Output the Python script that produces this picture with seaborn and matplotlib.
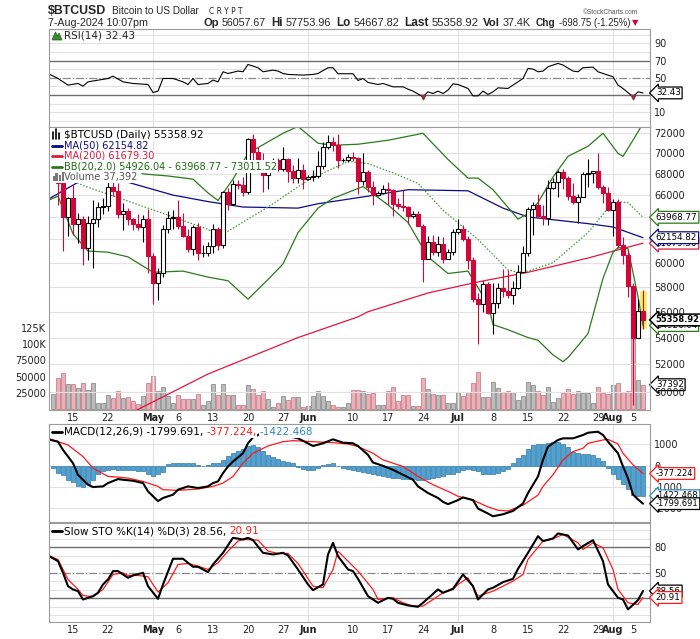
import numpy as np
import pandas as pd
import matplotlib
matplotlib.use("Agg")
import matplotlib.pyplot as plt
import matplotlib.font_manager as fm
from matplotlib.lines import Line2D
from matplotlib.patches import Rectangle, Polygon
from matplotlib.ticker import NullLocator, NullFormatter
import seaborn as sns

# ------------------------------------------------------------------ data
start_date = "2024-04-11"
end_date = "2024-08-07"
ref_date = "2024-04-12"          # day 0 for the indicator readings below

opens = [70600,
         70000, 67100, 64000, 65700, 63400, 63800, 61300, 63500, 63800, 64900,
         64950, 66800, 66400, 64300, 64500, 63800, 63400, 63100, 63800, 60600,
         58300, 59100, 62900, 63900, 64000, 63200, 62300, 61200, 63100, 60800,
         60850, 61450, 62900, 61550, 66300, 65200, 67000, 66900, 66300, 71400,
         70100, 69100, 67900, 68500, 69300, 68500, 69400, 68300, 67600, 68400,
         67500, 67750, 67800, 68800, 70600, 71100, 70800, 69300, 69350, 69650,
         69500, 67300, 68200, 66800, 66000, 66200, 66600, 66500, 65200, 65000,
         64900, 64100, 64250, 63200, 60300, 61800, 60900, 61600, 60300, 60900,
         62700, 62900, 62000, 60200, 57000, 56600, 58200, 55900, 56700, 57900,
         57700, 57300, 57900, 59200, 60800, 64700, 65100, 64100, 63900, 66700,
         67200, 68200, 67600, 65900, 65400, 65800, 68000, 68050, 68300, 66800,
         66200, 64600, 65400, 61500, 60700, 58100, 54000, 56057.67]
highs = [71200,
         71200, 67200, 65800, 66900, 64400, 64100, 64100, 65500, 65400, 65700,
         67200, 67200, 67100, 65300, 64800, 63900, 64300, 64200, 64700, 60800,
         59600, 63300, 64500, 64600, 65500, 64400, 62900, 63300, 63500, 61500,
         61800, 63400, 63100, 66400, 66700, 67400, 67400, 67700, 71500, 71900,
         70600, 70000, 69200, 69500, 69500, 70600, 69500, 68900, 69500, 69000,
         67900, 68400, 70200, 71100, 71800, 71600, 71900, 69500, 69900, 70100,
         69600, 70000, 68400, 67300, 66400, 66900, 67200, 66600, 65700, 66500,
         65000, 64500, 64500, 63400, 62300, 62400, 62300, 62200, 61200, 62900,
         63800, 63300, 62300, 60500, 57500, 58500, 58400, 58300, 58300, 59500,
         59400, 58500, 59800, 61400, 64900, 65400, 66100, 65100, 67400, 67600,
         68400, 68500, 67800, 67100, 66100, 68200, 69400, 68300, 70000, 66900,
         66800, 65600, 65600, 62200, 61100, 58300, 57000, 57753.96]
lows = [69500,
        65100, 61000, 62300, 62400, 61700, 59800, 60200, 59600, 63100, 64300,
        64500, 65900, 63900, 62800, 63300, 62800, 62800, 61800, 59100, 56600,
        56900, 58800, 62600, 62900, 62900, 62200, 60900, 60700, 60200, 60500,
        60600, 60800, 61100, 61300, 64600, 65100, 66600, 65900, 66100, 69200,
        68900, 66300, 66600, 68500, 68300, 68300, 67200, 67100, 67100, 66600,
        67400, 67300, 67600, 68500, 70400, 70200, 68600, 69100, 69100, 69200,
        66100, 66900, 66300, 65100, 65900, 66100, 65100, 64100, 64700, 64500,
        63400, 63900, 63200, 58400, 60300, 60700, 60600, 60000, 60300, 60700,
        62500, 61900, 59500, 56800, 53500, 56000, 55800, 54300, 56300, 57200,
        57100, 56600, 57800, 59200, 60600, 62400, 64000, 63300, 63300, 66600,
        65800, 66600, 65500, 65200, 63500, 65800, 66800, 67100, 66600, 65300,
        64500, 62300, 61300, 59900, 57200, 49100, 54000, 54667.82]
closes = [70000,
          67100, 64000, 65700, 63400, 63800, 61300, 63500, 63800, 64900, 64950,
          66800, 66400, 64300, 64500, 63800, 63400, 63100, 63800, 60600, 58300,
          59100, 62900, 63900, 64000, 63200, 62300, 61200, 63100, 60800, 60850,
          61450, 62900, 61550, 66300, 65200, 67000, 66900, 66300, 71400, 70100,
          69100, 67900, 68500, 69300, 68500, 69400, 68300, 67600, 68400, 67500,
          67750, 67800, 68800, 70600, 71100, 70800, 69300, 69350, 69650, 69500,
          67300, 68200, 66800, 66000, 66200, 66600, 66500, 65200, 65000, 64900,
          64100, 64250, 63200, 60300, 61800, 60900, 61600, 60300, 60900, 62700,
          62900, 62000, 60200, 57000, 56600, 58200, 55900, 56700, 57900, 57700,
          57300, 57900, 59200, 60800, 64700, 65100, 64100, 63900, 66700, 67200,
          68200, 67600, 65900, 65400, 65800, 68000, 68050, 68300, 66800, 66200,
          64600, 65400, 61500, 60700, 58100, 54000, 56060, 55358.92]
volume_k = [22.6,
            48, 56, 38, 38, 33, 40, 30, 40, 10, 10,
            21, 17, 27, 17, 18.5, 12, 7, 20, 40, 51,
            28, 34, 20, 10, 21.5, 15, 15, 15, 22.6, 6,
            12, 38, 21.5, 38, 21, 21, 6.2, 6.9, 36.4, 30.3,
            21.5, 27.7, 14.9, 3.6, 9.7, 20, 13.3, 18.5, 18.5, 3,
            4.6, 19.5, 27.7, 19.5, 12.3, 6.2, 3.6, 2.6, 9.7, 29,
            29, 28, 23.1, 25.1, 6.2, 6.2, 28.2, 34.3, 12.3, 21,
            21, 4.6, 5.1, 47.2, 30.3, 23.1, 22.0, 21.0, 8.7, 8.7,
            24.1, 20.0, 25.6, 39.5, 56.4, 17.9, 17.9, 42.0, 31.8, 26.7,
            28.2, 26.7, 13.8, 20.0, 42.0, 36.9, 28.2, 21.5, 34.3, 11.2,
            16.4, 25.1, 30.3, 23.1, 28.2, 25.1, 25.1, 9.7, 34.3, 24.1,
            23.1, 36.9, 39.5, 26.7, 28.2, 125, 44.6, 37.392]

ma50_days = [-2, 4, 10, 14, 23, 30, 37, 48, 52, 62, 70, 82, 89, 94, 98, 106, 111, 117]
ma50_vals = [65600, 67200, 67400, 67200, 66000, 65400, 64900, 64800, 65200, 65900,
             66500, 66400, 64800, 64000, 63800, 63400, 63100, 62154.82]
ma200_days = [14, 16, 30, 48, 60, 62, 74, 84, 94, 106, 112, 117]
ma200_vals = [48500, 48800, 51300, 54000, 55600, 56000, 57500, 58400, 59200, 60400,
              61100, 61679.30]
bbu_days = [-2, 8, 13, 17, 22, 27, 30, 32, 35, 38, 45, 48, 52, 55, 60, 66, 73, 78, 82,
            84, 87, 92, 94, 96, 99, 102, 106, 109, 112, 113, 115, 117]
bbu_vals = [72400, 71500, 69500, 68000, 67800, 67500, 66200, 65500, 67500, 70000,
            72000, 72700, 71000, 70800, 70900, 71300, 72000, 69400, 67600, 67600,
            66500, 63800, 64300, 65300, 67700, 69700, 70700, 72000, 70000, 69700,
            71300, 73011.52]
bbm_days = [-2, 5, 18, 30, 32, 42, 50, 58, 62, 67, 72, 77, 84, 90, 92, 94, 99, 106,
            110, 112, 114, 117]
bbm_vals = [68500, 66900, 64800, 62900, 62200, 64900, 67400, 69200, 69000, 68100,
            67100, 64600, 62000, 59400, 59200, 59300, 60000, 62600, 64800, 65400,
            65300, 63968.77]
bbl_days = [-2, 0, 3, 6, 10, 14, 19, 25, 30, 34, 38, 42, 45, 48, 52, 55, 61, 66, 70,
            74, 78, 82, 86, 87, 90, 94, 96, 99, 101, 102, 106, 109, 111, 112, 114,
            116, 117]
bbl_vals = [65500, 65900, 62500, 61000, 60900, 60500, 59200, 59300, 58800, 58500,
            57000, 58600, 59900, 62600, 64800, 65700, 66800, 65100, 63500, 60500,
            59100, 59300, 56600, 55000, 54600, 54000, 53800, 52700, 52200, 52500,
            54300, 58700, 60900, 61300, 61200, 57200, 54926.04]

rsi_days = [-2, 0, 2, 4, 5, 6, 10, 11, 13, 15, 18, 19, 20, 21, 23, 25, 26, 27, 28, 30,
            31, 32, 33, 34, 36, 37, 38, 40, 41, 43, 44, 45, 46, 49, 51, 52, 54, 55,
            56, 59, 60, 61, 62, 64, 65, 67, 69, 70, 71, 73, 74, 75, 76, 77, 78, 79,
            80, 82, 83, 84, 85, 86, 87, 88, 90, 91, 93, 94, 95, 96, 97, 98, 99, 100,
            101, 103, 104, 105, 107, 108, 110, 111, 112, 113, 115, 116, 117]
rsi_vals = [55.0, 49.2, 41.5, 43.4, 40.3, 45.3, 49.2, 51.9, 45.3, 43.4, 42.2, 32.9,
            34.5, 49.2, 49.2, 45.3, 42.2, 49.2, 42.2, 43.4, 47.3, 45.3, 57.0, 55.0,
            57.8, 57.0, 65.5, 61.7, 57.0, 58.9, 57.8, 55.0, 53.9, 53.1, 53.9, 55.0,
            61.7, 61.7, 54.7, 54.7, 46.9, 49.2, 44.6, 42.2, 43.4, 39.5, 39.5, 36.8,
            34.5, 27.9, 33.7, 31.7, 34.5, 31.7, 35.6, 43.0, 42.2, 37.6, 29.0, 29.0,
            34.5, 30.6, 33.7, 38.3, 37.6, 41.5, 49.2, 60.9, 60.1, 57.0, 57.8, 62.8,
            64.8, 66.7, 64.8, 57.8, 57.0, 61.7, 62.4, 57.0, 53.1, 51.2, 41.5, 37.6,
            27.9, 33.7, 32.43]
rsi_oversold_days = [73, 115]

macd_days = [-2, 0, 1, 3, 4, 6, 7, 9, 10, 12, 13, 15, 17, 18, 20, 21, 23, 24, 26, 28,
             30, 31, 32, 33, 34, 35, 37, 38, 39, 40, 41, 43, 45, 46, 48, 51, 53, 55,
             57, 59, 60, 62, 63, 65, 67, 69, 71, 72, 74, 76, 77, 78, 80, 81, 83, 84,
             86, 87, 89, 91, 93, 94, 96, 97, 98, 100, 101, 103, 105, 106, 108, 109,
             110, 112, 113, 114, 115, 116, 117]
macd_vals = [1235, 1125, 735, 110, -438, -906, -1016, -985, -828, -641, -672, -719,
             -828, -1220, -1680, -1532, -1375, -1141, -985, -1063, -985, -828, -750,
             -359, -47, 188, 578, 1047, 1329, 1438, 1600, 1700, 1550, 1391, 1282, 922,
             1047, 1235, 1078, 1047, 922, 500, 141, -16, -203, -438, -672, -985,
             -1297, -1532, -1714, -1824, -1633, -1505, -1633, -2030, -2267, -2395,
             -2300, -2143, -1790, -1300, -516, 266, 891, 1204, 1282, 1282, 1438, 1547,
             1594, 1438, 1125, 578, -47, -600, -1370, -1600, -1799.691]
signal_days = [-2, 2, 5, 7, 10, 12, 14, 17, 20, 21, 24, 28, 31, 33, 35, 37, 39, 42, 45,
               47, 51, 55, 58, 60, 63, 65, 69, 72, 75, 78, 80, 83, 86, 88, 90, 93, 96,
               97, 99, 101, 103, 105, 106, 109, 110, 112, 113, 115, 117]
signal_vals = [1282, 969, 422, -125, -516, -547, -594, -750, -985, -1141, -1172, -1110,
               -985, -828, -516, 109, 578, 922, 1125, 1172, 1125, 1078, 1016, 891, 578,
               266, -47, -516, -906, -1219, -1453, -1633, -1952, -2110, -2143, -1873,
               -1397, -985, -438, 266, 656, 813, 1047, 1204, 1235, 1016, 578, 31,
               -377.224]
hist_vals = [-125,
             -360, -450, -700, -800, -950, -1000, -850, -700, -420, -280,
             -200, -180, -200, -200, -220, -230, -240, -250, -400, -480,
             -400, -300, 80, 120, 140, 140, 120, 100, 20, 0,
             30, 100, 120, 270, 450, 580, 700, 800, 900, 950,
             850, 700, 500, 380, 300, 220, 180, 100, -50, -150,
             -200, -200, -100, 20, 80, 100, 0, -100, -150, -200,
             -250, -300, -330, -420, -460, -480, -550, -580, -600, -620,
             -640, -660, -680, -690, -660, -600, -550, -500, -420, -380,
             -300, -200, -180, -220, -250, -380, -420, -400, -350, -280,
             -150, 100, 350, 500, 800, 950, 1000, 1020, 1050, 1100,
             1130, 1000, 850, 650, 600, 560, 540, 500, 350, 200,
             -100, -400, -650, -850, -1100, -1400, -1420, -1422.468]

stok_days = [-2, 0, 1, 2, 3, 4, 5, 7, 8, 9, 10, 11, 12, 14, 15, 17, 18, 20, 21, 23,
             25, 26, 27, 28, 30, 31, 33, 35, 37, 38, 39, 41, 43, 45, 46, 48, 50, 51,
             53, 54, 55, 56, 58, 59, 60, 62, 64, 66, 67, 68, 70, 72, 73, 76, 77, 79,
             81, 83, 84, 86, 87, 89, 91, 92, 94, 96, 97, 99, 100, 102, 104, 105, 107,
             109, 110, 112, 113, 114, 116, 117]
stok_vals = [70.4, 63.7, 50.0, 34.3, 30.4, 28.4, 18.6, 22.5, 26.5, 36.3, 42.2, 52.0,
             52.0, 44.1, 46.9, 50.0, 34.3, 19.4, 36.3, 66.5, 66.5, 61.8, 57.1, 57.1,
             50.8, 59.8, 73.5, 91.2, 89.2, 91.2, 88.4, 73.5, 71.6, 73.5, 70.4, 53.9,
             36.3, 29.6, 36.3, 71.6, 85.3, 69.6, 53.9, 52.0, 42.9, 22.5, 14.7, 20.6,
             19.4, 14.7, 11.6, 10.0, 14.7, 30.4, 26.5, 31.2, 48.0, 34.3, 18.6, 30.4,
             32.4, 39.0, 42.9, 54.7, 73.5, 93.1, 87.3, 90.4, 96.3, 93.9, 77.5, 81.4,
             88.4, 63.7, 36.3, 20.6, 18.6, 6.9, 17.8, 28.56]
stod_days = [-2, 0, 2, 4, 5, 7, 9, 11, 13, 14, 16, 18, 20, 22, 24, 26, 28, 30, 32, 34,
             36, 37, 40, 42, 44, 46, 48, 51, 53, 55, 56, 58, 60, 63, 64, 67, 69, 71,
             73, 75, 77, 79, 80, 82, 84, 87, 89, 91, 93, 94, 97, 99, 101, 104, 105,
             107, 109, 111, 112, 114, 116, 117]
stod_vals = [70.4, 65.7, 42.2, 30.4, 23.3, 21.8, 30.4, 48.0, 50.0, 46.9, 46.9, 45.3,
             27.3, 38.2, 59.8, 61.0, 57.8, 53.9, 61.8, 75.5, 87.3, 89.2, 88.4, 75.5,
             72.7, 72.7, 61.0, 34.3, 32.4, 53.9, 75.5, 63.7, 52.0, 30.4, 18.6, 20.6,
             14.7, 10.8, 10.8, 18.6, 26.5, 30.4, 36.3, 44.1, 22.5, 28.4, 34.3, 40.2,
             48.0, 65.7, 87.3, 90.0, 95.1, 85.3, 77.5, 85.3, 79.4, 53.9, 30.4, 14.7,
             12.7, 20.91]

tick_dates = ["2024-04-15", "2024-04-22", "2024-05-01", "2024-05-06", "2024-05-13",
              "2024-05-20", "2024-05-27", "2024-06-01", "2024-06-10", "2024-06-17",
              "2024-06-24", "2024-07-01", "2024-07-08", "2024-07-15", "2024-07-22",
              "2024-07-29", "2024-08-01", "2024-08-05"]
tick_labels = ["15", "22", "May", "6", "13", "20", "27", "Jun", "10", "17", "24",
               "Jul", "8", "15", "22", "29", "Aug", "5"]
month_labels = ["May", "Jun", "Jul", "Aug"]

price_ticks = [50000, 52000, 54000, 56000, 58000, 60000, 62000, 64000, 66000, 68000,
               70000, 72000]
volume_ticks = [25000, 50000, 75000, 100000, 125000]
volume_tick_labels = ["25000", "50000", "75000", "100K", "125K"]

# ------------------------------------------------------------------ setup
W, H = 700, 639
sns.set_style("white")


def has_font(name):
    try:
        fm.findfont(fm.FontProperties(family=name), fallback_to_default=False)
        return True
    except Exception:
        return False


NARROW = "Liberation Sans Narrow" if has_font("Liberation Sans Narrow") else "Liberation Sans"
plt.rcParams["font.family"] = ["DejaVu Sans"]
plt.rcParams["font.size"] = 7
plt.rcParams["axes.unicode_minus"] = False

fig = plt.figure(figsize=(W / 100, H / 100), dpi=100)
fig.patch.set_facecolor("white")
rend = fig.canvas.get_renderer()

ref = pd.Timestamp(ref_date)
dates = pd.date_range(start_date, end_date, freq="D")
xs = np.asarray((dates - ref).days, dtype=float)
O = np.array(opens, float)
Hh = np.array(highs, float)
Lw = np.array(lows, float)
C = np.array(closes, float)
V = np.array(volume_k, float) * 1000
for name, arr in [("opens", O), ("highs", Hh), ("lows", Lw), ("closes", C),
                  ("volume", V), ("hist", np.array(hist_vals))]:
    if len(arr) != len(xs):
        raise SystemExit(f"{name} has {len(arr)} values, expected {len(xs)}")

tick_x = [(pd.Timestamp(d) - ref).days for d in tick_dates]
month_x = [tick_x[i] for i, l in enumerate(tick_labels) if l in month_labels]
XL = (-1.8, 118.4)

GRID = "#e2e2e2"
SPINE = "#9c9c9c"
LEVEL = "#6e6e6e"
RED = "#d0083a"
NAVY = "#0a0a8a"
MARED = "#e3173e"
GREEN = "#2b7a1c"
BLUE = "#2a8ac6"
HFAM = [NARROW, "DejaVu Sans"]


def axpos(top, bottom, left=49, right=650):
    return [left / W, 1 - bottom / H, (right - left) / W, (bottom - top) / H]


def ftext(x, y, s, **kw):
    return fig.text(x / W, 1 - y / H, s, **kw)


def fit(x, y, s, width, **kw):
    """text whose rendered width is scaled to the measured reference width"""
    t = ftext(x, y, s, **kw)
    w = t.get_window_extent(rend).width
    if w > 0:
        t.set_fontsize(t.get_fontsize() * width / w)
    return t


def runs(x, y, parts, va="baseline"):
    for s, kw, gap in parts:
        t = ftext(x, y, s, ha="left", va=va, **kw)
        x += t.get_window_extent(rend).width + gap
    return x


def base(ax):
    ax.set_xlim(*XL)
    ax.set_facecolor("none")
    for s in ax.spines.values():
        s.set_color(SPINE)
        s.set_linewidth(0.8)
    ax.tick_params(axis="both", length=0, labelsize=7, colors="#222222", pad=3)
    ax.yaxis.tick_right()
    ax.set_xticks(tick_x)
    ax.set_xticklabels([])
    ax.set_xlabel("")
    ax.set_ylabel("")
    for m in month_x:
        ax.axvline(m, color=GRID, lw=0.8, zorder=0)


def set_xlabels(ax):
    ax.set_xticklabels(tick_labels)
    for t in ax.get_xticklabels():
        if t.get_text() in month_labels:
            t.set_fontweight("bold")
    ax.tick_params(axis="x", labelsize=7, pad=2.2)


def tag(ax, value, text, ec, bold=False, fs=6.3):
    ax.annotate(text, xy=(1, value), xycoords=("axes fraction", "data"),
                xytext=(4.2, 0), textcoords="offset points", ha="left", va="center",
                fontsize=fs, fontweight="bold" if bold else "normal", color="black",
                bbox=dict(boxstyle="larrow,pad=0.16", fc="white", ec=ec,
                          lw=1.1 if bold else 0.9),
                annotation_clip=False, zorder=20)


def line(ax, days, vals, color, lw, **kw):
    sns.lineplot(x=np.asarray(days, float), y=np.asarray(vals, float), ax=ax,
                 color=color, linewidth=lw, errorbar=None, **kw)


# ------------------------------------------------------------------ header
fit(48, 14.5, "$BTCUSD", 58, fontsize=11, fontweight="bold", family=HFAM, va="baseline")
fit(112, 14.5, "Bitcoin to US Dollar", 88, fontsize=9, family=HFAM, va="baseline")
fit(209, 14.5, "C R Y P T", 34, fontsize=7, va="baseline")
fit(638, 13.5, "\u00a9StockCharts.com", 56, fontsize=9, color="#555555", family=HFAM,
    va="baseline", ha="right")
fit(48, 25.5, "7-Aug-2024 10:07pm", 100, fontsize=9, family=HFAM, va="baseline")

hdr_items = [("Op", "56057.67", 203, 266), ("Hi", "57753.96", 271, 331),
             ("Lo", "54667.82", 336, 399), ("Last", "55358.92", 404, 478),
             ("Vol", "37.4K", 483, 531), ("Chg", "-698.75 (-1.25%)", 536, 630)]
for key, val, x0, x1 in hdr_items:
    kb = ftext(x0, 25.5, key, fontsize=9.5, fontweight="bold", family=HFAM,
               va="baseline", ha="left")
    kv = ftext(x0, 25.5, val, fontsize=9, family=HFAM, va="baseline", ha="left")
    wk = kb.get_window_extent(rend).width
    wv = kv.get_window_extent(rend).width
    scale = min(1.0, (x1 - x0 - 3) / (wk + wv))
    kb.set_fontsize(9.5 * scale)
    kv.set_fontsize(9 * scale)
    wk = kb.get_window_extent(rend).width
    kv.set_position(((x0 + wk + 3) / W, 1 - 25.5 / H))
ftext(632, 25.5, "\u25bc", fontsize=6, color=RED, va="baseline", ha="left")

# ------------------------------------------------------------------ RSI panel
ax_rsi = fig.add_axes(axpos(29, 126.5))
base(ax_rsi)
ax_rsi.set_ylim(-6.6, 106.7)
for v in range(0, 101, 10):
    if v not in (30, 50, 70):
        ax_rsi.axhline(v, color=GRID, lw=0.8, zorder=0)
ax_rsi.axhline(70, color=LEVEL, lw=1.0, zorder=1)
ax_rsi.axhline(30, color=LEVEL, lw=1.0, zorder=1)
ax_rsi.axhline(50, color="#888888", lw=0.9, ls="-.", zorder=1)
line(ax_rsi, rsi_days, rsi_vals, "black", 0.8)
ax_rsi.scatter([d for d in rsi_oversold_days],
               [rsi_vals[rsi_days.index(d)] for d in rsi_oversold_days],
               marker="v", s=10, color="#8a3040", zorder=5)
ax_rsi.set_yticks([10, 30, 50, 70, 90])
ax_rsi.set_yticklabels(["10", "30", "50", "70", "90"])
ax_rsi.set_xlabel("")
ax_rsi.set_ylabel("")
tag(ax_rsi, rsi_vals[-1], f"{rsi_vals[-1]:.2f}", "black")

# ------------------------------------------------------------------ price panel
ax_vol = fig.add_axes(axpos(126.5, 410))
ax_vol.set_xlim(*XL)
ax_vol.set_ylim(-1538, 434615)
prev = np.r_[C[0], C[:-1]]
down = C < prev
ax_vol.bar(xs, V, width=0.9, color=np.where(down, "#e7b3bb", "#bcbcbc"),
           edgecolor=np.where(down, "#d27d8a", "#8f8f8f"), linewidth=0.6, zorder=2)
for s in ax_vol.spines.values():
    s.set_visible(False)
ax_vol.set_xticks([])
ax_vol.yaxis.tick_left()
ax_vol.set_yticks(volume_ticks)
ax_vol.set_yticklabels(volume_tick_labels)
ax_vol.tick_params(axis="y", length=0, labelsize=7, colors="#222222", pad=2)
tag(ax_vol, V[-1], f"{V[-1]:.0f}", "black")

ax_px = fig.add_axes(axpos(126.5, 410))
base(ax_px)
ax_px.set_yscale("log")
ax_px.set_ylim(48764, 72693)
ax_px.yaxis.set_minor_locator(NullLocator())
ax_px.yaxis.set_minor_formatter(NullFormatter())
ax_px.set_yticks(price_ticks)
ax_px.set_yticklabels([str(v) for v in price_ticks])
for v in price_ticks:
    ax_px.axhline(v, color=GRID, lw=0.8, zorder=0)
set_xlabels(ax_px)

# highlight of the latest bar
ax_px.bar(xs[-1], Hh[-1] - Lw[-1], bottom=Lw[-1], width=1.5, color="#f3ef5c",
          zorder=2)

line(ax_px, ma200_days, ma200_vals, MARED, 0.9)
line(ax_px, ma50_days, ma50_vals, NAVY, 0.9)
line(ax_px, bbu_days, bbu_vals, GREEN, 0.9)
line(ax_px, bbl_days, bbl_vals, GREEN, 0.9)
line(ax_px, bbm_days, bbm_vals, "#3f9a32", 0.9, linestyle=(0, (1.2, 1.4)))

up = C >= O
ax_px.vlines(xs, Lw, Hh, colors=np.where(up, "black", RED), linewidth=0.8, zorder=4)
body = np.maximum(np.abs(C - O), 70)
ax_px.bar(xs, body, bottom=np.minimum(O, C), width=0.8,
          color=np.where(up, "white", RED), edgecolor=np.where(up, "black", RED),
          linewidth=0.8, zorder=5)
ax_px.set_xlabel("")
ax_px.set_ylabel("")

tag(ax_px, bbm_vals[-1], f"{bbm_vals[-1]:.2f}", GREEN)
tag(ax_px, ma200_vals[-1], f"{ma200_vals[-1]:.2f}", MARED)
tag(ax_px, ma50_vals[-1], f"{ma50_vals[-1]:.2f}", NAVY)
tag(ax_px, bbl_vals[-1], f"{bbl_vals[-1]:.2f}", GREEN)
tag(ax_px, C[-1], f"{C[-1]:.2f}", "black", bold=True, fs=6.0)

# legend block (white backed)
fig.add_artist(Rectangle((49.6 / W, 1 - 183 / H), 14 / W, 55 / H,
                         transform=fig.transFigure, fc="white", ec="none", zorder=1))
leg_kw = dict(va="center", ha="left", bbox=dict(fc="white", ec="none", pad=0.8))
ftext(64, 134.5, "$BTCUSD (Daily) 55358.92", fontsize=7.5, color="black", **leg_kw)
ftext(64, 145.5, "MA(50) 62154.82", fontsize=7, color=NAVY, **leg_kw)
ftext(64, 156, "MA(200) 61679.30", fontsize=7, color=MARED, **leg_kw)
ftext(64, 166.5, "BB(20,2.0) 54926.04 - 63968.77 - 73011.52", fontsize=7,
      color="#1d6b12", **leg_kw)
ftext(64, 177, "Volume 37,392", fontsize=7, color="#555555", **leg_kw)
for yy, cc in [(145.5, NAVY), (156, MARED), (166.5, GREEN)]:
    fig.add_artist(Line2D([52 / W, 62 / W], [1 - yy / H] * 2, color=cc, lw=2.0,
                          transform=fig.transFigure, zorder=4))
for x0, hh in [(53, 6), (56, 9), (59, 5)]:
    fig.add_artist(Line2D([x0 / W] * 2, [1 - (138 - hh) / H, 1 - 139 / H], color="black",
                          lw=1.2, transform=fig.transFigure, zorder=4))
for x0, hh in [(52.5, 5), (55.5, 8), (58.5, 6), (61.5, 9)]:
    fig.add_artist(Rectangle((x0 / W, 1 - 181 / H), 2.2 / W, hh / H, fc="#777777",
                             ec="none", transform=fig.transFigure, zorder=4))
fig.add_artist(Polygon([(52 / W, 1 - 40 / H), (55.5 / W, 1 - 32 / H),
                        (57.5 / W, 1 - 36 / H), (59 / W, 1 - 33 / H),
                        (62 / W, 1 - 40 / H)], closed=True, fc="#3c8c2c",
                       ec="#1f5f15", lw=0.5, transform=fig.transFigure, zorder=4))
ftext(64, 36, "RSI(14) 32.43", fontsize=7.5, va="center", ha="left")

# ------------------------------------------------------------------ MACD panel
ax_macd = fig.add_axes(axpos(424, 522))
base(ax_macd)
ax_macd.set_ylim(-2665, 1958)
for v in (-2000, -1000, 0, 1000):
    ax_macd.axhline(v, color=GRID, lw=0.8, zorder=0)
ax_macd.bar(xs, hist_vals, width=0.85, color="#4fa2d2", edgecolor="#2e76a6",
            linewidth=0.5, zorder=2)
line(ax_macd, signal_days, signal_vals, "#ff1a1a", 0.9)
line(ax_macd, macd_days, macd_vals, "black", 1.5)
ax_macd.set_yticks([-2000, -1000, 0, 1000])
ax_macd.set_yticklabels(["-2000", "-1000", "0", "1000"])
ax_macd.set_xlabel("")
ax_macd.set_ylabel("")
tag(ax_macd, signal_vals[-1], f"{signal_vals[-1]:.3f}", "#ff1a1a", fs=6.0)
tag(ax_macd, hist_vals[-1], f"{hist_vals[-1]:.3f}", BLUE, fs=6.0)
tag(ax_macd, macd_vals[-1], f"{macd_vals[-1]:.3f}", "black", fs=6.0)
fig.add_artist(Line2D([52 / W, 62 / W], [1 - 432 / H] * 2, color="black", lw=2.0,
                      transform=fig.transFigure, zorder=4))
wbb = dict(fc="white", ec="none", pad=0.6)
runs(64, 432, [("MACD(12,26,9) -1799.691,", dict(fontsize=7.5, color="black", bbox=wbb), 3),
               ("-377.224,", dict(fontsize=7.5, color="#ff1a1a", bbox=wbb), 3),
               ("-1422.468", dict(fontsize=7.5, color=BLUE, bbox=wbb), 0)],
     va="center")

# ------------------------------------------------------------------ Slow STO panel
ax_sto = fig.add_axes(axpos(523, 622))
base(ax_sto)
ax_sto.set_ylim(-7.9, 108.6)
for v in range(0, 101, 10):
    if v not in (20, 50, 80):
        ax_sto.axhline(v, color=GRID, lw=0.8, zorder=0)
ax_sto.axhline(80, color=LEVEL, lw=1.0, zorder=1)
ax_sto.axhline(20, color=LEVEL, lw=1.0, zorder=1)
ax_sto.axhline(50, color="#888888", lw=0.9, ls="-.", zorder=1)
line(ax_sto, stod_days, stod_vals, "#ff1a1a", 0.9)
line(ax_sto, stok_days, stok_vals, "black", 1.5)
ax_sto.set_yticks([20, 50, 80])
ax_sto.set_yticklabels(["20", "50", "80"])
set_xlabels(ax_sto)
ax_sto.set_xlabel("")
ax_sto.set_ylabel("")
tag(ax_sto, stok_vals[-1], f"{stok_vals[-1]:.2f}", "black")
tag(ax_sto, stod_vals[-1], f"{stod_vals[-1]:.2f}", "#ff1a1a")
fig.add_artist(Line2D([52 / W, 62 / W], [1 - 531 / H] * 2, color="black", lw=2.0,
                      transform=fig.transFigure, zorder=4))
runs(64, 531, [("Slow STO %K(14) %D(3) 28.56,", dict(fontsize=7.5, color="black", bbox=wbb), 3),
               ("20.91", dict(fontsize=7.5, color="#ff1a1a", bbox=wbb), 0)], va="center")

fig.savefig("out.png", dpi=100, facecolor="white")
